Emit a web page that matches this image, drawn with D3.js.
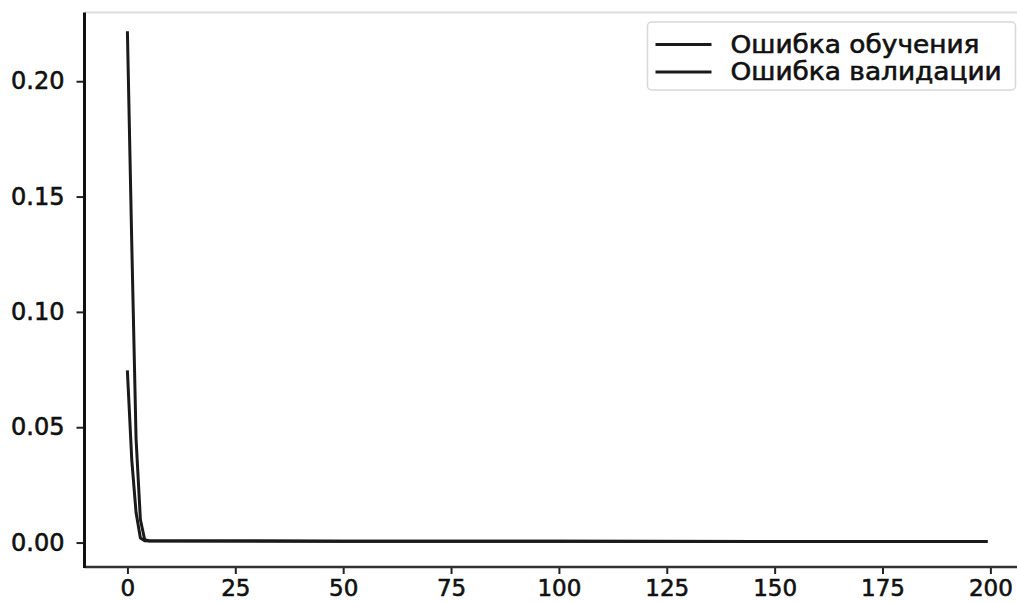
<!DOCTYPE html>
<html>
<head>
<meta charset="utf-8">
<script src="https://cdn.jsdelivr.net/npm/d3@7"></script>
<style>
  body { margin: 0; background: #fff; }
  svg { display: block; font-family: "DejaVu Sans", sans-serif; }
</style>
</head>
<body>
<svg id="chart-area"></svg>
<script>
// epochs (the tail is flat, so a few readings are enough)
var epochs = [0, 1, 2, 3, 4, 5, 50, 100, 150, 199];
var trainLoss = [0.221, 0.13, 0.045, 0.01, 0.0012, 0.0008, 0.0006, 0.0006, 0.0005, 0.0005];
var valLoss = [0.074, 0.036, 0.013, 0.002, 0.0008, 0.0007, 0.0006, 0.0006, 0.0005, 0.0005];
var seriesNames = ["Ошибка обучения", "Ошибка валидации"];
var xTicks = [0, 25, 50, 75, 100, 125, 150, 175, 200];
var yTicks = [0.00, 0.05, 0.10, 0.15, 0.20];

var width = 1017, height = 603;
var plot = { left: 84.5, right: 1029, top: 12.5, bottom: 567 };

var svg = d3.select("#chart-area")
    .attr("width", width)
    .attr("height", height);

// X Scale
var x = d3.scaleLinear()
    .domain([-9.95, 208.95])
    .range([plot.left, plot.right]);

// Y Scale
var y = d3.scaleLinear()
    .domain([-0.0106, 0.2298])
    .range([plot.bottom, plot.top]);

// top spine (faint)
svg.append("line")
    .attr("x1", plot.left).attr("x2", plot.right)
    .attr("y1", plot.top).attr("y2", plot.top)
    .attr("stroke", "#ddd")
    .attr("stroke-width", 2);

// X Axis
var xAxisCall = d3.axisBottom(x)
    .tickValues(xTicks)
    .tickSize(7)
    .tickPadding(6)
    .tickFormat(d3.format("d"));
var xAxis = svg.append("g")
    .attr("class", "x axis")
    .attr("transform", "translate(0," + plot.bottom + ")")
    .call(xAxisCall);
xAxis.select(".domain").remove();
xAxis.append("line")
    .attr("x1", plot.left).attr("x2", plot.right)
    .attr("stroke", "#333")
    .attr("stroke-width", 2.5);

// Y Axis
var yAxisCall = d3.axisLeft(y)
    .tickValues(yTicks)
    .tickSize(8)
    .tickPadding(12)
    .tickFormat(d3.format(".2f"));
var yAxis = svg.append("g")
    .attr("class", "y axis")
    .attr("transform", "translate(" + plot.left + ",0)")
    .call(yAxisCall);
yAxis.select(".domain").remove();
yAxis.append("line")
    .attr("y1", plot.top).attr("y2", plot.bottom + 1)
    .attr("stroke", "#111")
    .attr("stroke-width", 3);

svg.selectAll(".axis .tick line")
    .attr("stroke", "#222")
    .attr("stroke-width", 2);
svg.selectAll(".axis text")
    .attr("fill", "#111")
    .attr("stroke", "#111")
    .attr("stroke-width", 0.6)
    .attr("font-family", "DejaVu Sans, sans-serif");
yAxis.selectAll("text").attr("font-size", "24px");
xAxis.selectAll("text").attr("font-size", "23px");

// Lines
var line = d3.line()
    .x(function(d){ return x(d[0]); })
    .y(function(d){ return y(d[1]); });

var series = [
    epochs.map(function(e, i){ return [e, trainLoss[i]]; }),
    epochs.map(function(e, i){ return [e, valLoss[i]]; })
];

svg.selectAll(".loss")
    .data(series)
    .enter()
    .append("path")
        .attr("class", "loss")
        .attr("d", line)
        .attr("fill", "none")
        .attr("stroke", "#1a1a1a")
        .attr("stroke-width", 3)
        .attr("stroke-linejoin", "round")
        .attr("stroke-linecap", "square");

// Legend
var legend = svg.append("g")
    .attr("transform", "translate(647.5,22)");

legend.append("rect")
    .attr("width", 368)
    .attr("height", 68)
    .attr("rx", 4)
    .attr("fill", "#fff")
    .attr("stroke", "#d8d8d8")
    .attr("stroke-width", 1.5);

var items = legend.selectAll(".item")
    .data(seriesNames)
    .enter()
    .append("g")
        .attr("class", "item")
        .attr("transform", function(d, i){ return "translate(0," + (22.5 + i * 27.5) + ")"; });

items.append("line")
    .attr("x1", 8).attr("x2", 64)
    .attr("stroke", "#1a1a1a")
    .attr("stroke-width", 3);

// the picture is stretched sideways, so the legend text is too
items.append("text")
    .attr("transform", "translate(83,0) scale(1.1,1)")
    .attr("dy", "0.35em")
    .attr("font-size", "24px")
    .attr("fill", "#111")
    .attr("stroke", "#111")
    .attr("stroke-width", 0.6)
    .text(function(d){ return d; });
</script>
</body>
</html>
